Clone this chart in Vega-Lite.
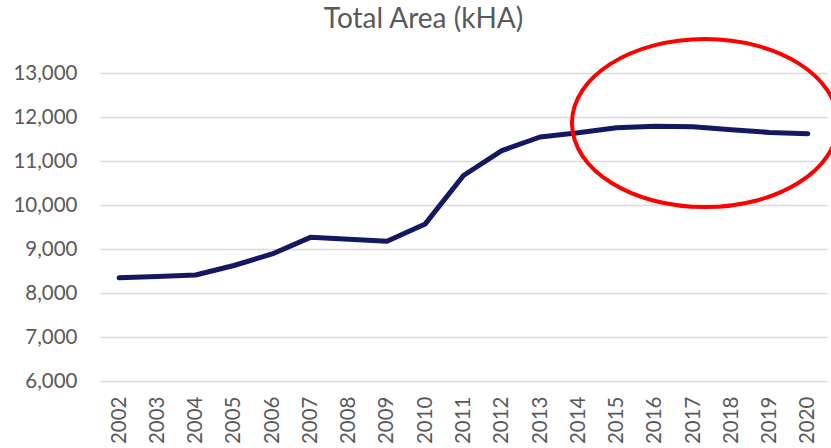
{
  "$schema": "https://vega.github.io/schema/vega-lite/v6.json",
  "autosize": "none",
  "width": 727,
  "height": 308,
  "padding": {"left": 100, "top": 73, "right": 4, "bottom": 67},
  "background": "white",
  "config": {
    "view": {"stroke": null},
    "font": "Lato",
    "axis": {"labelFont": "Lato", "labelColor": "#595959", "labelFontSize": 20.5}
  },
  "title": {
    "text": "Total Area (kHA)",
    "font": "Lato",
    "fontSize": 28,
    "fontWeight": "normal",
    "color": "#595959",
    "anchor": "middle",
    "frame": "group",
    "baseline": "alphabetic",
    "offset": -25,
    "dx": -40
  },
  "datasets": {
    "series": [
      {"year": 2002, "area": 8345},
      {"year": 2003, "area": 8375},
      {"year": 2004, "area": 8410},
      {"year": 2005, "area": 8625},
      {"year": 2006, "area": 8887},
      {"year": 2007, "area": 9265},
      {"year": 2008, "area": 9222},
      {"year": 2009, "area": 9174},
      {"year": 2010, "area": 9570},
      {"year": 2011, "area": 10671},
      {"year": 2012, "area": 11235},
      {"year": 2013, "area": 11545},
      {"year": 2014, "area": 11640},
      {"year": 2015, "area": 11755},
      {"year": 2016, "area": 11788},
      {"year": 2017, "area": 11780},
      {"year": 2018, "area": 11710},
      {"year": 2019, "area": 11650},
      {"year": 2020, "area": 11620}
    ],
    "highlight": [
      {"year": 2017.31, "area": 11862}
    ]
  },
  "layer": [
    {
      "data": {"name": "series"},
      "mark": {"type": "line", "color": "#141862", "strokeWidth": 5, "strokeCap": "round", "strokeJoin": "round"},
      "encoding": {
        "x": {
          "field": "year",
          "type": "quantitative",
          "scale": {"domain": [2001.5, 2020.5], "nice": false, "zero": false},
          "axis": {
            "title": null,
            "values": [2002,2003,2004,2005,2006,2007,2008,2009,2010,2011,2012,2013,2014,2015,2016,2017,2018,2019,2020],
            "format": "d",
            "labelAngle": -90,
            "labelPadding": 15,
            "ticks": false,
            "domain": false,
            "grid": false,
            "labelOverlap": false,
            "labelFlush": false
          }
        },
        "y": {
          "field": "area",
          "type": "quantitative",
          "scale": {"domain": [6000, 13000], "nice": false, "zero": false},
          "axis": {
            "title": null,
            "values": [6000,7000,8000,9000,10000,11000,12000,13000],
            "format": ",.0f",
            "ticks": false,
            "domain": false,
            "labelPadding": 23,
            "gridColor": "#d9d9d9",
            "gridWidth": 1.5
          }
        }
      }
    },
    {
      "data": {"name": "highlight"},
      "mark": {
        "type": "point",
        "shape": "M -1 0 A 1 0.6316 0 1 0 1 0 A 1 0.6316 0 1 0 -1 0 Z",
        "filled": false,
        "stroke": "#ff0000",
        "strokeWidth": 4,
        "size": 70756,
        "opacity": 1
      },
      "encoding": {
        "x": {"field": "year", "type": "quantitative"},
        "y": {"field": "area", "type": "quantitative"}
      }
    }
  ]
}
